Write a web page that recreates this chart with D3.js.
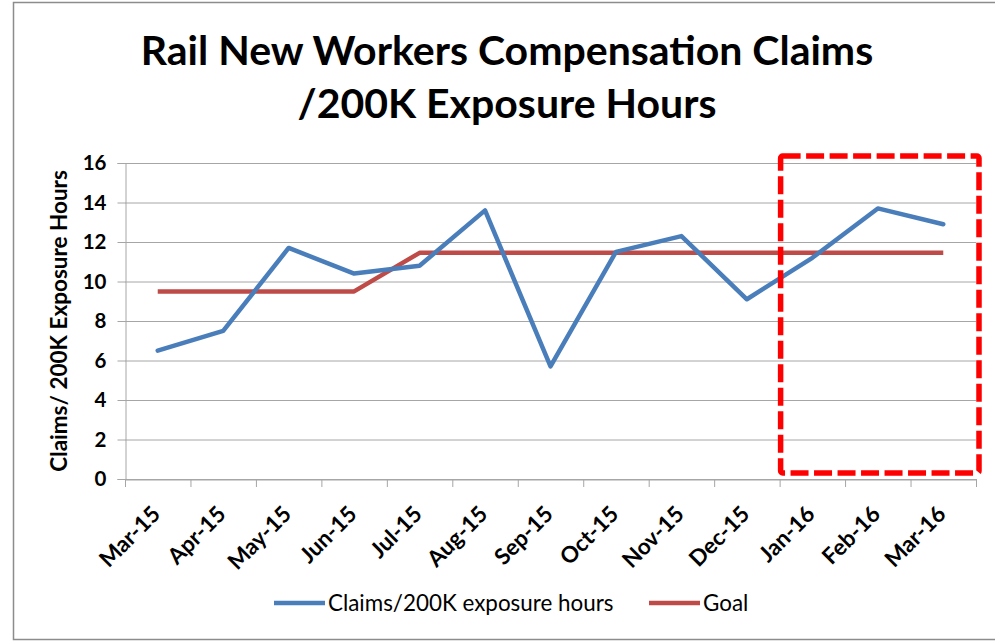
<html lang="en">
<head>
    <meta charset="UTF-8">
    <title>Rail New Workers Compensation Claims</title>
    <script src="https://d3js.org/d3.v7.min.js"></script>
    <style>
        body { margin: 0; background: #fff; overflow: hidden; }
        text { font-family: Lato, "Open Sans", sans-serif; fill: #000; }
    </style>
</head>
<body>
    <div id="chart"></div>
    <script>
        var width = 995, height = 641;
        var margin = {top: 163, right: 19, bottom: 162, left: 125};

        var months = ["Mar-15", "Apr-15", "May-15", "Jun-15", "Jul-15", "Aug-15", "Sep-15",
                      "Oct-15", "Nov-15", "Dec-15", "Jan-16", "Feb-16", "Mar-16"];
        var claims = [6.5, 7.5, 11.7, 10.4, 10.8, 13.6, 5.7, 11.5, 12.3, 9.1, 11.2, 13.7, 12.9];
        var goal = [9.5, 9.5, 9.5, 9.5, 11.45, 11.45, 11.45, 11.45, 11.45, 11.45, 11.45, 11.45, 11.45];
        var yTicks = [0, 2, 4, 6, 8, 10, 12, 14, 16];
        var highlight = ["Jan-16", "Mar-16"];

        var svg = d3.select("#chart").append("svg")
            .attr("width", width)
            .attr("height", height);

        // outer frame (right side runs off the picture)
        svg.append("rect")
            .attr("x", 13.5).attr("y", 2.5)
            .attr("width", 1000).attr("height", 637)
            .attr("fill", "none")
            .attr("stroke", "#8c8c8c")
            .attr("stroke-width", 1.5);

        var x = d3.scaleBand()
            .domain(months)
            .range([margin.left, width - margin.right]);
        var y = d3.scaleLinear()
            .domain([0, 16])
            .range([height - margin.bottom, margin.top]);

        function cx(d) { return x(d) + x.bandwidth() / 2; }

        // gridlines
        svg.append("g")
            .selectAll("line")
            .data(yTicks)
            .join("line")
            .attr("x1", margin.left)
            .attr("x2", width - margin.right)
            .attr("y1", d => y(d) + 0.5)
            .attr("y2", d => y(d) + 0.5)
            .attr("stroke", "#a6a6a6")
            .attr("stroke-width", 1);

        // y axis
        var yAxis = svg.append("g")
            .attr("transform", "translate(" + (margin.left + 0.5) + ",0)")
            .call(d3.axisLeft(y).tickValues(yTicks).tickSize(8).tickPadding(11));
        yAxis.selectAll("path, line").attr("stroke", "#a6a6a6");
        yAxis.selectAll("text")
            .style("font-family", "Lato, sans-serif")
            .style("font-size", "20.5px")
            .style("font-weight", "bold")
            .attr("fill", "#000");

        // x axis
        var xAxis = svg.append("g")
            .attr("transform", "translate(0," + (y(0) + 0.5) + ")")
            .call(d3.axisBottom(x).tickSize(0).tickPadding(0).tickSizeOuter(0));
        xAxis.select("path").attr("stroke", "#a6a6a6");
        xAxis.selectAll(".tick text")
            .attr("text-anchor", "end")
            .attr("dy", "0")
            .attr("transform", "translate(4,36) rotate(-45)")
            .style("font-family", "Lato, sans-serif")
            .style("font-size", "22.5px")
            .style("font-weight", "bold")
            .attr("fill", "#000");
        // tick marks on category boundaries
        svg.append("g")
            .selectAll("line")
            .data(months.concat(["end"]))
            .join("line")
            .attr("x1", (d, i) => margin.left + i * x.bandwidth() + 0.5)
            .attr("x2", (d, i) => margin.left + i * x.bandwidth() + 0.5)
            .attr("y1", y(0))
            .attr("y2", y(0) + 8)
            .attr("stroke", "#a6a6a6");

        // lines
        var line = d3.line()
            .x((d, i) => cx(months[i]))
            .y(d => y(d));

        svg.append("path")
            .datum(goal)
            .attr("d", line)
            .attr("fill", "none")
            .attr("stroke", "#be4b48")
            .attr("stroke-width", 4.5)
            .attr("stroke-linejoin", "round");

        svg.append("path")
            .datum(claims)
            .attr("d", line)
            .attr("fill", "none")
            .attr("stroke", "#4a7ebb")
            .attr("stroke-width", 4.5)
            .attr("stroke-linejoin", "round")
            .attr("stroke-linecap", "round");

        // highlight box around the latest months
        var bx0 = x(highlight[0]) + 1,
            bx1 = x(highlight[1]) + x.bandwidth() + 3,
            by0 = y(16) - 7,
            by1 = y(0) - 6;
        svg.append("rect")
            .attr("x", bx0).attr("y", by0)
            .attr("width", bx1 - bx0).attr("height", by1 - by0)
            .attr("rx", 2)
            .attr("fill", "none")
            .attr("stroke", "#ff0000")
            .attr("stroke-width", 5.5)
            .attr("stroke-dasharray", "18,5.5");

        // title
        var title = svg.append("text")
            .attr("text-anchor", "middle")
            .style("font-size", "41px")
            .style("font-weight", "bold");
        title.append("tspan").attr("x", 507).attr("y", 65).text("Rail New Workers Compensation Claims");
        title.append("tspan").attr("x", 507).attr("y", 118).text("/200K Exposure Hours");

        // y axis title
        svg.append("text")
            .attr("transform", "translate(67," + ((y(0) + y(16)) / 2) + ") rotate(-90)")
            .attr("text-anchor", "middle")
            .style("font-size", "22.5px")
            .style("font-weight", "bold")
            .text("Claims/ 200K Exposure Hours");

        // legend
        var legend = [
            {name: "Claims/200K exposure hours", color: "#4a7ebb", x: 274},
            {name: "Goal", color: "#be4b48", x: 649}
        ];
        var lg = svg.append("g").selectAll("g")
            .data(legend)
            .join("g")
            .attr("transform", d => "translate(" + d.x + ",603)");
        lg.append("line")
            .attr("x1", 0).attr("x2", 51)
            .attr("stroke", d => d.color)
            .attr("stroke-width", 4.5);
        lg.append("text")
            .attr("x", 54)
            .attr("dy", "0.35em")
            .style("font-size", "22.4px")
            .text(d => d.name);
    </script>
</body>
</html>
